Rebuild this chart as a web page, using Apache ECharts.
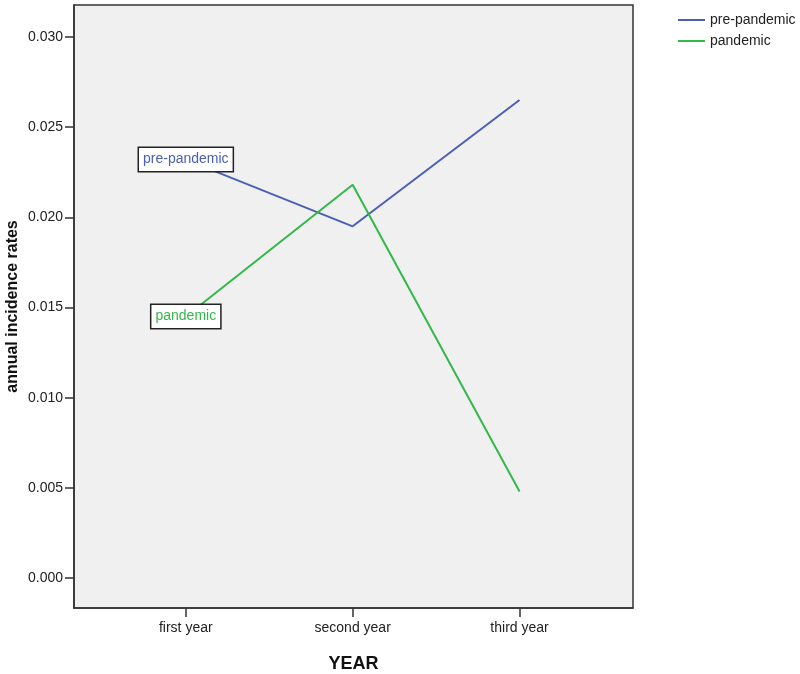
<!DOCTYPE html>
<html>
<head>
<meta charset="utf-8">
<script src="https://cdn.jsdelivr.net/npm/echarts@6/dist/echarts.min.js"></script>
<style>
  html, body { margin: 0; padding: 0; background: #fff; }
  #chart { width: 800px; height: 674px; }
</style>
</head>
<body>
<div id="chart"></div>
<script>
// categories and values
var years = ["first year", "second year", "third year"];
var prePandemic = [0.0232, 0.0195, 0.0265];
var pandemic = [0.0145, 0.0218, 0.0048];
var yTicks = [0, 0.005, 0.010, 0.015, 0.020, 0.025, 0.030];

var chart = echarts.init(document.getElementById("chart"));

function seriesData(values) {
    return values.map(function (v, i) {
        var item = { value: [i, v] };
        if (i === 0) {
            // name box sits on the first point
            item.symbol = "circle";
            item.symbolSize = 1;
            item.label = { show: true };
        }
        return item;
    });
}

function makeSeries(name, values, color) {
    return {
        name: name,
        type: "line",
        symbol: "none",
        data: seriesData(values),
        lineStyle: { color: color, width: 2 },
        itemStyle: { color: color },
        label: {
            show: false,
            position: "inside",
            formatter: name,
            color: color,
            fontFamily: "Liberation Sans",
            fontSize: 14,
            backgroundColor: "#fff",
            borderColor: "#222",
            borderWidth: 1.5,
            padding: [5, 4, 4, 4]
        },
        labelLayout: { hideOverlap: false },
        emphasis: { disabled: true }
    };
}

chart.setOption({
    animation: false,
    textStyle: { fontFamily: "Liberation Sans" },
    grid: {
        left: 74,
        top: 5,
        right: 167,
        bottom: 66,
        outerBoundsMode: "none",
        containLabel: false,
        show: true,
        backgroundColor: "#f0f0f0",
        borderColor: "#333",
        borderWidth: 1.5
    },
    legend: {
        orient: "vertical",
        left: 673,
        top: 8,
        icon: "rect",
        itemWidth: 27,
        itemHeight: 2,
        itemGap: 7,
        textStyle: { color: "#222", fontSize: 14, fontFamily: "Liberation Sans" },
        data: ["pre-pandemic", "pandemic"]
    },
    xAxis: {
        type: "value",
        min: -0.67,
        max: 2.68,
        name: "YEAR",
        nameLocation: "middle",
        nameGap: 47,
        nameMoveOverlap: false,
        nameTextStyle: { color: "#111", fontSize: 18, fontWeight: "bold" },
        axisLine: { show: true, onZero: false, lineStyle: { color: "#333", width: 1.5 } },
        axisTick: { show: true, length: 9, customValues: [0, 1, 2], lineStyle: { color: "#333", width: 1.5 } },
        axisLabel: {
            customValues: [0, 1, 2],
            color: "#222",
            fontSize: 14,
            margin: 13,
            formatter: function (v) { return years[Math.round(v)]; }
        },
        splitLine: { show: false }
    },
    yAxis: {
        type: "value",
        min: -0.00166,
        max: 0.03177,
        name: "annual incidence rates",
        nameLocation: "middle",
        nameGap: 53,
        nameMoveOverlap: false,
        nameTextStyle: { color: "#111", fontSize: 16, fontWeight: "bold" },
        axisLine: { show: true, onZero: false, lineStyle: { color: "#333", width: 1.5 } },
        axisTick: { show: true, length: 9, customValues: yTicks, lineStyle: { color: "#333", width: 1.5 } },
        axisLabel: {
            customValues: yTicks,
            color: "#222",
            fontSize: 14,
            margin: 11,
            formatter: function (v) { return v.toFixed(3); }
        },
        splitLine: { show: false }
    },
    series: [
        makeSeries("pre-pandemic", prePandemic, "#4a5fb5"),
        makeSeries("pandemic", pandemic, "#33b84a")
    ]
});
</script>
</body>
</html>
